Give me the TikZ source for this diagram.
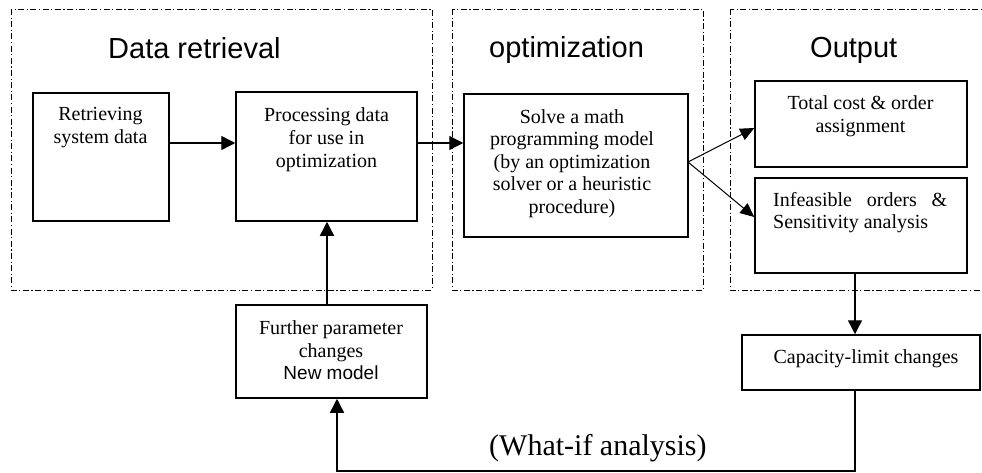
\documentclass[tikz,border=0pt]{standalone}
\usepackage{fontspec}
\setmainfont{Liberation Serif}
\setsansfont{Liberation Sans}
\usetikzlibrary{arrows.meta}

\tikzset{
  stage/.style={draw, line width=0.8pt, dash pattern=on 6pt off 2.5pt on 1.2pt off 2.5pt},
  blk/.style={draw, line width=1.5pt, inner sep=0pt},
  body/.style={font=\fontsize{20}{23}\selectfont, inner sep=0pt, align=center},
  title/.style={font=\sffamily\fontsize{29}{34}\selectfont, inner sep=0pt, anchor=base west},
  flow/.style={line width=1.4pt, -{Triangle[length=14pt,width=14pt]}},
  thin flow/.style={line width=1pt, -{Triangle[length=14pt,width=12.5pt]}},
}

\begin{document}
\begin{tikzpicture}[x=1pt,y=1pt]
\useasboundingbox (0,0) rectangle (982,-472);

% stage frames
\draw[stage] (11,-9) rectangle (432,-290);
\draw[stage] (452,-9) rectangle (703,-290);
\draw[stage] (730,-9) rectangle (1000,-290);

% stage titles
\node[title] (t1) at (108,-58) {Data retrieval};
\node[title] (t2) at (489,-57) {optimization};
\node[title] (t3) at (810,-57) {Output};

% boxes
\node[blk, minimum width=136pt, minimum height=128pt] (ret) at (101,-157) {};
\node[blk, minimum width=181pt, minimum height=129pt] (proc) at (326.5,-156.5) {};
\node[blk, minimum width=224pt, minimum height=143pt] (solve) at (576,-165.5) {};
\node[blk, minimum width=212pt, minimum height=86pt] (total) at (861,-124) {};
\node[blk, minimum width=212pt, minimum height=95pt] (infeas) at (861,-225.5) {};
\node[blk, minimum width=238pt, minimum height=55pt] (cap) at (861,-362.5) {};
\node[blk, minimum width=191pt, minimum height=93pt] (further) at (331.5,-351.5) {};

% box texts (anchored on the baseline of their last line)
\node[body, anchor=base] (retT) at (100.5,-143) {Retrieving\\system data};
\node[body, anchor=base] (procT) at (326.5,-167) {Processing data\\for use in\\optimization};
\node[body, anchor=base, font=\fontsize{20}{22.5}\selectfont] (solveT) at (572,-213)
  {Solve a math\\programming model\\(by an optimization\\solver or a heuristic\\procedure)};
\node[body, anchor=base] (totalT) at (860.5,-132) {Total cost \& order\\assignment};
\node[body, anchor=base west, align=left, font=\fontsize{20}{21.5}\selectfont] (infT) at (773,-228)
  {\makebox[174pt][s]{Infeasible orders \&}\\Sensitivity analysis};
\node[body, anchor=base] (capT) at (866,-363) {Capacity-limit changes};
\node[body, anchor=base] (furtherT) at (331,-379)
  {Further parameter\\changes\\[-1pt]{\sffamily\fontsize{19}{22}\selectfont New model}};

\node[font=\fontsize{30}{34}\selectfont, inner sep=0pt, anchor=base west] (whatif) at (489,-455) {(What-if analysis)};

% connectors
\draw[flow] (ret.east |- 0,-143) -- (proc.west |- 0,-143);
\draw[flow] (proc.east |- 0,-143) -- (solve.west |- 0,-143);
\coordinate (fork) at (688,-162);
\draw[thin flow] (fork) -- (total.west |- 0,-128);
\draw[thin flow] (fork) -- (infeas.west |- 0,-217);
\draw[flow] (infeas.south -| 855,0) -- (cap.north -| 855,0);
\coordinate (loopR) at (855,-471);
\coordinate (loopL) at (337,-471);
\draw[flow] (cap.south -| 855,0) -- (loopR) -- (loopL) -- (further.south -| 337,0);
\draw[flow] (further.north -| 327,0) -- (proc.south -| 327,0);
\end{tikzpicture}
\end{document}
